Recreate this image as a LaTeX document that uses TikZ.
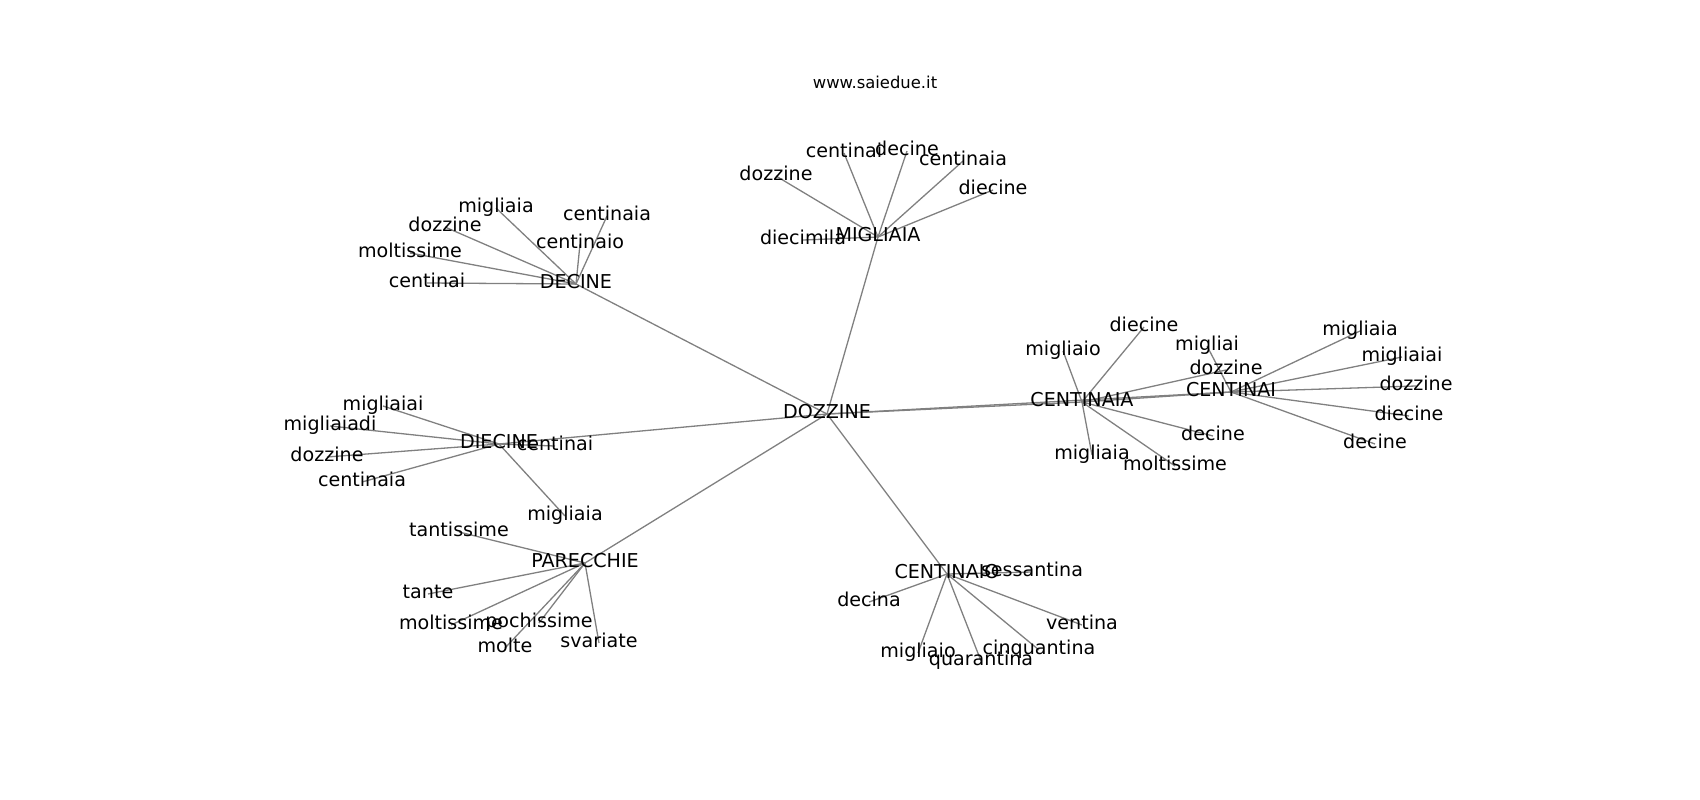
\documentclass[tikz,border=0pt]{standalone}
\usepackage{fontspec}
\setmainfont{DejaVu Sans}
\usetikzlibrary{backgrounds}
\begin{document}
\begin{tikzpicture}[x=1pt,y=-1pt,
  lbl/.style={font=\fontsize{19.1}{23}\selectfont, inner sep=0pt, text height=13.8pt, text depth=5.3pt, anchor=center},
  ttl/.style={font=\fontsize{16.4}{20}\selectfont, inner sep=0pt, anchor=center},
  edge/.style={draw=gray, line width=1.3pt}]
\useasboundingbox (0,0) rectangle (1700,800);
\node[ttl] (title) at (875,82) {www.saiedue.it};
% hubs
\node[lbl] (DOZ) at (827,414) {DOZZINE};
\node[lbl] (DEC) at (576,284) {DECINE};
\node[lbl] (MIG) at (878,237) {MIGLIAIA};
\node[lbl] (CTA) at (1082,402) {CENTINAIA};
\node[lbl] (CTI) at (1231,392) {CENTINAI};
\node[lbl] (DIE) at (499,444) {DIECINE};
\node[lbl] (PAR) at (585,563) {PARECCHIE};
\node[lbl] (CTO) at (947,574) {CENTINAIO};
% MIGLIAIA leaves
\node[lbl] (m1) at (844,153) {centinai};
\node[lbl] (m2) at (907,151) {decine};
\node[lbl] (m3) at (963,161) {centinaia};
\node[lbl] (m4) at (776,176) {dozzine};
\node[lbl] (m5) at (993,190) {diecine};
\node[lbl] (m6) at (803,240) {diecimila};
% DECINE leaves
\node[lbl] (d1) at (496,208) {migliaia};
\node[lbl] (d2) at (607,216) {centinaia};
\node[lbl] (d3) at (445,227) {dozzine};
\node[lbl] (d4) at (580,244) {centinaio};
\node[lbl] (d5) at (410,253) {moltissime};
\node[lbl] (d6) at (427,283) {centinai};
% CENTINAIA leaves
\node[lbl] (a1) at (1144,327) {diecine};
\node[lbl] (a2) at (1063,351) {migliaio};
\node[lbl] (a3) at (1226,370) {dozzine};
\node[lbl] (a4) at (1213,436) {decine};
\node[lbl] (a5) at (1092,455) {migliaia};
\node[lbl] (a6) at (1175,466) {moltissime};
% CENTINAI leaves
\node[lbl] (i1) at (1207,346) {migliai};
\node[lbl] (i2) at (1360,331) {migliaia};
\node[lbl] (i3) at (1402,357) {migliaiai};
\node[lbl] (i4) at (1416,386) {dozzine};
\node[lbl] (i5) at (1409,416) {diecine};
\node[lbl] (i6) at (1375,444) {decine};
% DIECINE leaves
\node[lbl] (e1) at (383,406) {migliaiai};
\node[lbl] (e2) at (330,426) {migliaiadi};
\node[lbl] (e3) at (327,457) {dozzine};
\node[lbl] (e4) at (362,482) {centinaia};
\node[lbl] (e5) at (555,446) {centinai};
\node[lbl] (e6) at (565,516) {migliaia};
% PARECCHIE leaves
\node[lbl] (p1) at (459,532) {tantissime};
\node[lbl] (p2) at (428,594) {tante};
\node[lbl] (p3) at (451,625) {moltissime};
\node[lbl] (p4) at (539,623) {pochissime};
\node[lbl] (p5) at (505,648) {molte};
\node[lbl] (p6) at (599,643) {svariate};
% CENTINAIO leaves
\node[lbl] (o1) at (1032,572) {sessantina};
\node[lbl] (o2) at (869,602) {decina};
\node[lbl] (o3) at (1082,625) {ventina};
\node[lbl] (o4) at (1039,650) {cinquantina};
\node[lbl] (o5) at (981,661) {quarantina};
\node[lbl] (o6) at (918,653) {migliaio};
\begin{pgfonlayer}{background}
\foreach \h in {DEC,MIG,CTA,CTI,DIE,PAR,CTO}
  \draw[edge] (DOZ.center) -- (\h.center);
\draw[edge] (CTA.center) -- (CTI.center);
\foreach \l in {m1,m2,m3,m4,m5,m6} \draw[edge] (MIG.center) -- (\l.center);
\foreach \l in {d1,d2,d3,d4,d5,d6} \draw[edge] (DEC.center) -- (\l.center);
\foreach \l in {a1,a2,a3,a4,a5,a6} \draw[edge] (CTA.center) -- (\l.center);
\foreach \l in {i1,i2,i3,i4,i5,i6} \draw[edge] (CTI.center) -- (\l.center);
\foreach \l in {e1,e2,e3,e4,e5,e6} \draw[edge] (DIE.center) -- (\l.center);
\foreach \l in {p1,p2,p3,p4,p5,p6} \draw[edge] (PAR.center) -- (\l.center);
\foreach \l in {o1,o2,o3,o4,o5,o6} \draw[edge] (CTO.center) -- (\l.center);
\end{pgfonlayer}
\end{tikzpicture}
\end{document}
